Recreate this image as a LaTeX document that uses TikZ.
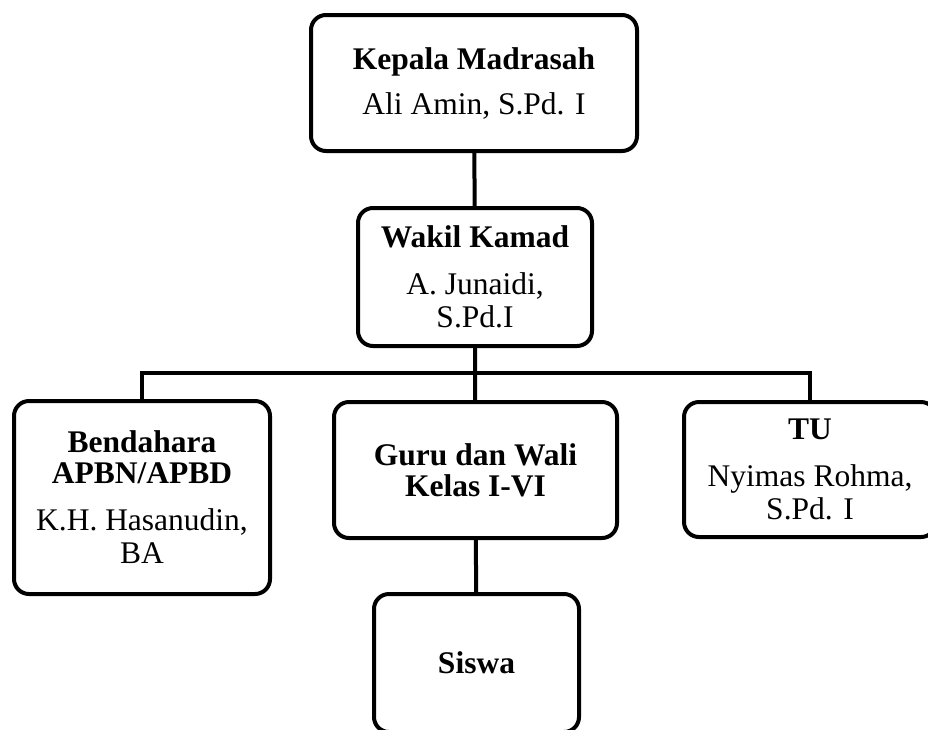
\documentclass[tikz,border=0pt]{standalone}
\usepackage{fontspec}
\setmainfont{Liberation Serif}
\begin{document}
\begin{tikzpicture}[x=1pt,y=-1pt,line join=miter,
 box/.style={draw,line width=4pt,rounded corners=15pt,align=center,inner sep=0pt,
  font=\fontsize{31.5}{33}\selectfont},
 link/.style={line width=4pt}]
 \useasboundingbox (0,0) rectangle (928,729);
 \clip (0,0) rectangle (928,729);
 \node[box,minimum width=326pt,minimum height=136pt] (kepala) at (474,83)
  {\textbf{Kepala Madrasah}\\[12pt]Ali Amin, S.Pd. I};
 \node[box,minimum width=234pt,minimum height=138pt] (wakil) at (475,277)
  {\textbf{Wakil Kamad}\\[14pt]A. Junaidi,\\S.Pd.I};
 \node[box,minimum width=256pt,minimum height=193pt] (bendahara) at (142,497.5)
  {\textbf{Bendahara}\\[-2pt]\textbf{APBN/APBD}\\[14pt]K.H. Hasanudin,\\BA};
 \node[box,minimum width=283pt,minimum height=136pt] (guru) at (475.5,470)
  {\textbf{Guru dan Wali}\\[-2pt]\textbf{Kelas I-VI}};
 \node[box,minimum width=252pt,minimum height=135pt] (tu) at (810,469.5)
  {\textbf{TU}\\[14pt]Nyimas Rohma,\\S.Pd. I};
 \node[box,minimum width=205pt,minimum height=138pt] (siswa) at (476.5,663)
  {\textbf{Siswa}};
 \coordinate (bus) at (475,373);
 \draw[link] (kepala) -- (wakil);
 \draw[link] (wakil) -- (bus) -- (guru);
 \draw[link] (bendahara.north) |- (bus) -| (tu.north);
 \draw[link] (guru) -- (siswa);
\end{tikzpicture}
\end{document}
